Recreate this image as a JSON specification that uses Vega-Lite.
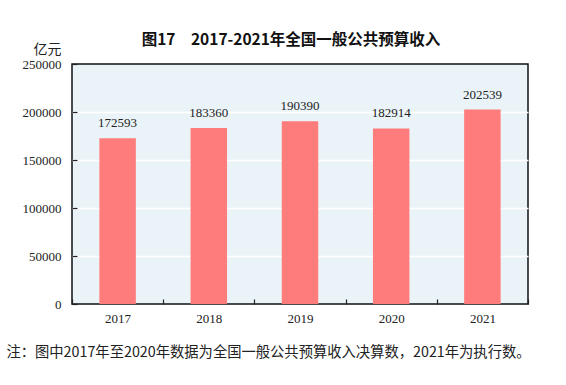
{
  "$schema": "https://vega.github.io/schema/vega-lite/v6.json",
  "autosize": {"type": "none"},
  "padding": {"left": 72, "top": 64, "right": 38, "bottom": 81},
  "width": 456,
  "height": 240,
  "background": "white",
  "title": {
    "text": "图17　2017-2021年全国一般公共预算收入",
    "font": "Noto Sans CJK SC",
    "fontSize": 15.5,
    "fontWeight": "bold",
    "color": "#111111",
    "anchor": "middle",
    "dx": -9,
    "offset": -6
  },
  "config": {
    "view": {"fill": "#eaf4f8", "stroke": "#111111", "strokeWidth": 1.5},
    "axis": {"domain": false}
  },
  "data": {
    "values": [
      {"year": "2017", "value": 172593},
      {"year": "2018", "value": 183360},
      {"year": "2019", "value": 190390},
      {"year": "2020", "value": 182914},
      {"year": "2021", "value": 202539}
    ]
  },
  "encoding": {
    "x": {
      "field": "year",
      "type": "ordinal",
      "scale": {"paddingInner": 0, "paddingOuter": 0},
      "axis": {
        "labelAngle": 0,
        "labelFont": "Liberation Serif",
        "labelFontSize": 13,
        "labelColor": "#222222",
        "tickBand": "extent",
        "tickSize": -5,
        "tickColor": "#222222",
        "tickWidth": 1.2,
        "labelPadding": 13,
        "title": "注：图中2017年至2020年数据为全国一般公共预算收入决算数，2021年为执行数。",
        "titleFont": "Noto Sans CJK SC",
        "titleFontSize": 14.3,
        "titleFontWeight": "normal",
        "titleColor": "#222222",
        "titleX": 196,
        "titleY": 48,
        "titleAlign": "center",
        "titleBaseline": "middle"
      }
    },
    "y": {
      "field": "value",
      "type": "quantitative",
      "scale": {"domain": [0, 250000], "nice": false},
      "axis": {
        "values": [0, 50000, 100000, 150000, 200000, 250000],
        "format": "d",
        "labelFont": "Liberation Serif",
        "labelFontSize": 13,
        "labelColor": "#222222",
        "grid": true,
        "gridColor": "white",
        "gridOpacity": {"condition": {"test": "datum.value >= 250000 || datum.value <= 0", "value": 0}, "value": 1},
        "gridWidth": 1.5,
        "tickSize": -5,
        "tickColor": "#222222",
        "tickWidth": 1.2,
        "labelPadding": 16,
        "title": "亿元",
        "titleFont": "Noto Sans CJK SC",
        "titleFontSize": 14,
        "titleFontWeight": "normal",
        "titleColor": "#222222",
        "titleAngle": 0,
        "titleAlign": "right",
        "titleBaseline": "alphabetic",
        "titleX": -11,
        "titleY": -11
      }
    }
  },
  "layer": [
    {
      "mark": {"type": "bar", "color": "#fe7c7c", "width": {"band": 0.4}}
    },
    {
      "mark": {
        "type": "text",
        "font": "Liberation Serif",
        "fontSize": 13,
        "color": "#222222",
        "baseline": "alphabetic",
        "dy": -11
      },
      "encoding": {
        "text": {"field": "value", "type": "quantitative", "format": "d"}
      }
    }
  ]
}
